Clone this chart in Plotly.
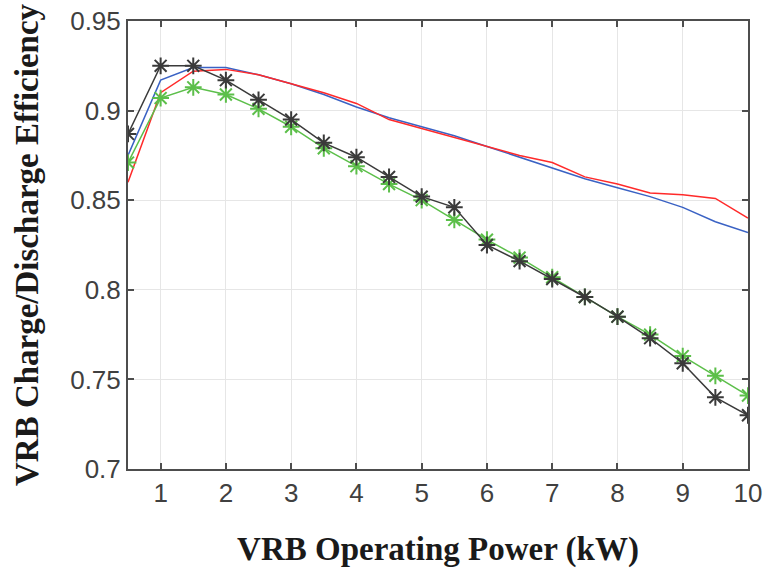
import plotly.graph_objects as go

power_kw = [0.5, 1, 1.5, 2, 2.5, 3, 3.5, 4, 4.5, 5, 5.5, 6, 6.5, 7, 7.5, 8, 8.5, 9, 9.5, 10]

eff_black = [0.887, 0.925, 0.925, 0.917, 0.906, 0.895, 0.882, 0.874, 0.863, 0.852,
             0.846, 0.825, 0.816, 0.806, 0.796, 0.785, 0.773, 0.759, 0.740, 0.730]
eff_green = [0.871, 0.907, 0.913, 0.909, 0.901, 0.891, 0.879, 0.869, 0.859, 0.850,
             0.839, 0.828, 0.818, 0.807, 0.796, 0.785, 0.775, 0.763, 0.752, 0.741]
eff_blue = [0.875, 0.917, 0.924, 0.924, 0.920, 0.915, 0.909, 0.902, 0.896, 0.891,
            0.886, 0.880, 0.874, 0.868, 0.862, 0.857, 0.852, 0.846, 0.838, 0.832]
eff_red = [0.860, 0.910, 0.922, 0.923, 0.920, 0.915, 0.910, 0.904, 0.895, 0.890,
           0.885, 0.880, 0.875, 0.871, 0.863, 0.859, 0.854, 0.853, 0.851, 0.840]

x_ticks = [1, 2, 3, 4, 5, 6, 7, 8, 9, 10]
y_ticks = [0.7, 0.75, 0.8, 0.85, 0.9, 0.95]
y_tick_labels = ["0.7", "0.75", "0.8", "0.85", "0.9", "0.95"]

fig = go.Figure()
fig.add_trace(go.Scatter(x=power_kw, y=eff_blue, mode="lines",
                         line=dict(color="#3a62c4", width=1.5), showlegend=False))
fig.add_trace(go.Scatter(x=power_kw, y=eff_red, mode="lines",
                         line=dict(color="#ff2a2a", width=1.5), showlegend=False))
fig.add_trace(go.Scatter(x=power_kw, y=eff_green, mode="lines+markers",
                         line=dict(color="#5cbf4a", width=1.5),
                         marker=dict(symbol="asterisk-open", size=14,
                                     line=dict(color="#5cbf4a", width=2)),
                         showlegend=False))
fig.add_trace(go.Scatter(x=power_kw, y=eff_black, mode="lines+markers",
                         line=dict(color="#3a3a3a", width=1.5),
                         marker=dict(symbol="asterisk-open", size=14,
                                     line=dict(color="#111111", width=2)),
                         showlegend=False))

axis_common = dict(
    showline=True, linecolor="#4d4d4d", linewidth=2, mirror="ticks",
    ticks="inside", ticklen=6, tickwidth=1.5, tickcolor="#4d4d4d",
    showgrid=True, gridcolor="#e6e6e6", gridwidth=1.2, zeroline=False,
    automargin=False,
    tickfont=dict(family="Liberation Sans, Arial", size=26, color="#404040"),
)

fig.update_xaxes(range=[0.5, 10], tickvals=x_ticks,
                 title=dict(text="VRB Operating Power (kW)", standoff=30,
                            font=dict(family="Liberation Serif, Times New Roman", size=33,
                                      color="#1a1a1a", weight="bold")),
                 **axis_common)
fig.update_yaxes(range=[0.7, 0.95], tickvals=y_ticks, ticktext=y_tick_labels,
                 title=dict(text="VRB Charge/Discharge Efficiency", standoff=22,
                            font=dict(family="Liberation Serif, Times New Roman", size=33,
                                      color="#1a1a1a", weight="bold")),
                 **axis_common)

fig.update_layout(width=766, height=572, margin=dict(l=128, r=18, t=21, b=103),
                  plot_bgcolor="white", paper_bgcolor="white")

fig.write_html("out.html")
